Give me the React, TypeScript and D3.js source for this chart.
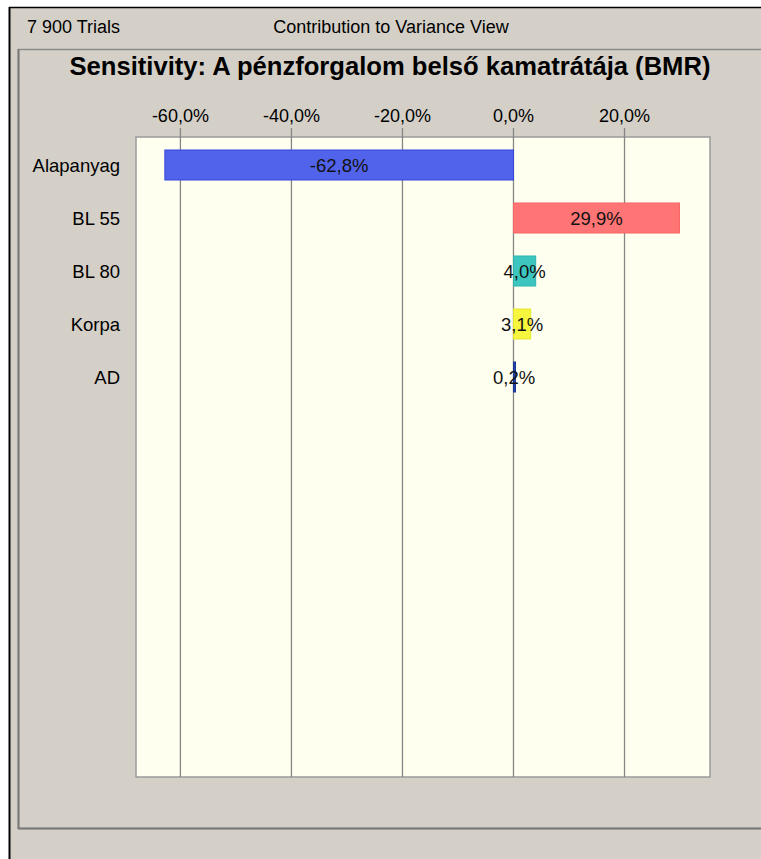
import * as d3 from "d3";
import React from "react";

// chart values
const categories = ["Alapanyag", "BL 55", "BL 80", "Korpa", "AD"];
const contributions = [-62.8, 29.9, 4.0, 3.1, 0.2];
const barColors = ["#5163EA", "#FF7474", "#3CC6BF", "#F6F63E", "#2244B0"];
const barStrokes = ["#3546DD", "#F86464", "#2EB4AD", "#E6E630", "#1A3494"];
const ticks = [-60, -40, -20, 0, 20];
const xDomain = [-68, 35.4];

const trialsLabel = "7 900 Trials";
const viewLabel = "Contribution to Variance View";
const title = "Sensitivity: A pénzforgalom belső kamatrátája (BMR)";

const W = 761;
const H = 859;
const plot = {left: 136, top: 137, right: 710, bottom: 777};
const font = "'Liberation Sans', Arial, sans-serif";

const fmt = (v: number) => v.toFixed(1).replace(".", ",") + "%";

const App = () => {
    const x = d3.scaleLinear().domain(xDomain).range([plot.left, plot.right]);
    const y = d3.scalePoint<string>().domain(categories).range([165, 377]);
    const barH = 30;

    return (
        <svg width={W} height={H} style={{position: "absolute", left: 0, top: 0}}>
            <rect x={0} y={0} width={W} height={H} fill="#ffffff"/>
            {/* window background */}
            <rect x={9} y={7} width={W} height={H} fill="#D4D0C8"/>
            <line x1={9} x2={W} y1={7.5} y2={7.5} stroke="#000" strokeWidth={1.5}/>
            <line x1={9.5} x2={9.5} y1={7} y2={H} stroke="#000" strokeWidth={2}/>

            {/* header */}
            <text x={27} y={33} fontFamily={font} fontSize={18} fill="#000">{trialsLabel}</text>
            <text x={391} y={33} fontFamily={font} fontSize={18} fill="#000" textAnchor="middle">{viewLabel}</text>

            {/* inner panel */}
            <rect x={18.5} y={49.5} width={W + 20} height={779} fill="none" stroke="#8a8a8a" strokeWidth={1.5}/>
            <line x1={18} x2={W} y1={828.5} y2={828.5} stroke="#7a7a7a" strokeWidth={2}/>
            <line x1={18.5} x2={18.5} y1={49} y2={829} stroke="#7a7a7a" strokeWidth={2}/>

            <text x={390} y={75} fontFamily={font} fontSize={25.6} fontWeight="bold" fill="#000" textAnchor="middle">{title}</text>

            {/* plot area */}
            <rect x={plot.left} y={plot.top} width={plot.right - plot.left} height={plot.bottom - plot.top}
                  fill="#FFFFF0" stroke="#9a9a9a" strokeWidth={1.5}/>

            {ticks.map(t => (
                <g key={t}>
                    <line x1={x(t)} x2={x(t)} y1={128} y2={plot.bottom} stroke="#858585" strokeWidth={1.3}/>
                    <text x={x(t)} y={122} fontFamily={font} fontSize={18} textAnchor="middle" fill="#000">{fmt(t)}</text>
                </g>
            ))}

            {categories.map((c, i) => {
                const v = contributions[i];
                const cy = y(c)!;
                const x0 = x(Math.min(0, v));
                const x1 = x(Math.max(0, v));
                return (
                    <g key={c}>
                        <text x={120} y={cy + 6.5} fontFamily={font} fontSize={18.5} textAnchor="end" fill="#000">{c}</text>
                        <rect x={x0} y={cy - barH / 2} width={Math.max(x1 - x0, 2)} height={barH}
                              fill={barColors[i]} stroke={barStrokes[i]} strokeWidth={1}/>
                        <text x={(x0 + x1) / 2} y={cy + 6.5} fontFamily={font} fontSize={18.5} textAnchor="middle" fill="#111">{fmt(v)}</text>
                    </g>
                );
            })}
        </svg>
    );
};

export default App;
